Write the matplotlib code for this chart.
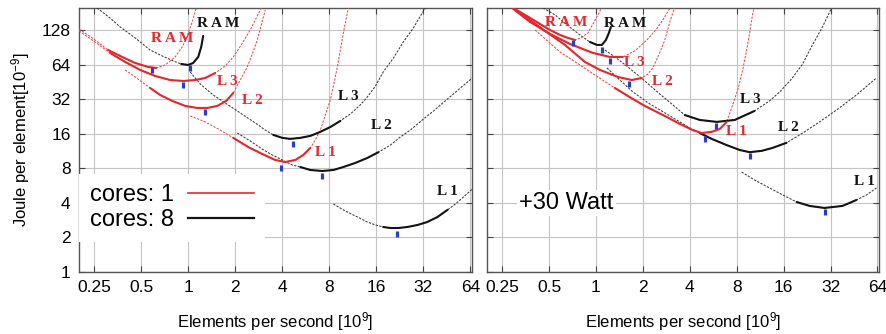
import matplotlib
matplotlib.use('Agg')
import matplotlib.pyplot as plt
from matplotlib.lines import Line2D

plt.rcParams['font.family'] = ['Liberation Sans', 'DejaVu Sans']
plt.rcParams['mathtext.fontset'] = 'custom'
plt.rcParams['mathtext.rm'] = 'Liberation Sans'
plt.rcParams['mathtext.it'] = 'Liberation Sans:italic'
plt.rcParams['mathtext.bf'] = 'Liberation Sans:bold'

# ---------------- data ----------------
X_TICKS = [0.25, 0.5, 1, 2, 4, 8, 16, 32, 64]
X_TICK_LABELS = ['0.25', '0.5', '1', '2', '4', '8', '16', '32', '64']
Y_TICKS = [1, 2, 4, 8, 16, 32, 64, 128]
Y_TICK_LABELS = ['1', '2', '4', '8', '16', '32', '64', '128']

# left panel, cores: 1
L_RAM1_X = [0.200, 0.253, 0.307, 0.378, 0.458, 0.554, 0.624, 0.712, 0.825, 0.915, 0.985, 1.061, 1.125]
L_RAM1_Y = [131.9, 105.8, 86.5, 75.2, 66.6, 61.5, 60.3, 64.0, 75.2, 91.9, 114.6, 151.8, 201]
L_L3_1_X = [0.200, 0.253, 0.316, 0.395, 0.493, 0.615, 0.767, 0.929, 1.109, 1.285, 1.489, 1.726, 1.942, 2.186, 2.495, 2.726, 2.977]
L_L3_1_Y = [126.8, 101.6, 81.5, 68.0, 57.9, 51.3, 47.3, 46.4, 47.3, 49.3, 54.5, 62.7, 75.2, 95.7, 129.3, 164.5, 209]
L_L2_1_X = [0.395, 0.458, 0.570, 0.662, 0.790, 0.957, 1.142, 1.323, 1.534, 1.752, 1.942, 2.153, 2.387, 2.570, 2.767, 2.935, 3.113]
L_L2_1_Y = [57.9, 50.3, 40.3, 35.0, 31.1, 28.1, 27.0, 27.0, 28.1, 31.1, 36.5, 47.3, 61.5, 79.8, 105.8, 143, 193]
L_L1_1_X = [1.030, 1.285, 1.556, 1.942, 2.423, 2.977, 3.608, 4.18, 4.84, 5.45, 6.05, 6.51, 7.01, 7.54, 8.12, 8.61, 9.0, 9.41, 9.84, 10.28, 10.59]
L_L1_1_Y = [22.98, 20.4, 17.7, 14.8, 12.3, 10.7, 9.49, 9.11, 9.49, 10.5, 12.1, 14.2, 17.3, 23.4, 31.7, 45.5, 61.5, 86.5, 121.8, 164.5, 201]
# left panel, cores: 8
L_RAM8_X = [0.261, 0.316, 0.367, 0.458, 0.570, 0.682, 0.801, 0.902, 1.0, 1.076, 1.159, 1.211, 1.247]
L_RAM8_Y = [201, 164.5, 137.3, 110.1, 86.5, 76.7, 69.4, 65.3, 64.0, 66.6, 75.2, 91.9, 114.6]
L_L3_8_X = [1.03, 1.193, 1.446, 1.726, 2.153, 2.687, 3.113, 3.504, 4.0, 4.50, 5.22, 6.05, 7.01, 8.12, 9.41, 10.9, 12.64, 14.0, 15.8, 17.7, 20.6, 23.8, 27.6, 30.6, 33.0]
L_L3_8_Y = [55.6, 43.7, 35.0, 29.8, 24.4, 19.97, 17.3, 15.7, 14.8, 14.5, 14.8, 15.4, 16.7, 18.4, 20.8, 23.9, 28.7, 33.6, 42.0, 55.6, 73.7, 101.6, 134.5, 171, 201]
L_L2_8_X = [2.06, 2.495, 2.977, 3.45, 4.0, 4.64, 5.22, 6.05, 7.22, 8.49, 9.84, 11.7, 14.0, 16.5, 19.7, 22.8, 26.4, 31.5, 37.1, 44.9, 55.2, 65.9]
L_L2_8_Y = [16.3, 13.9, 11.8, 10.5, 9.49, 8.58, 8.24, 7.76, 7.61, 7.76, 8.24, 8.93, 9.88, 11.1, 12.8, 15.1, 17.3, 21.2, 25.4, 31.7, 40.3, 49.3]
L_L1_8_X = [8.49, 10.1, 12.1, 14.0, 15.8, 17.7, 19.7, 22.1, 25.3, 29.3, 33.9, 39.4, 45.6, 51.3, 57.7, 65.9]
L_L1_8_Y = [3.92, 3.41, 3.02, 2.73, 2.57, 2.47, 2.42, 2.42, 2.47, 2.57, 2.73, 3.02, 3.48, 3.92, 4.51, 5.30]
# measured (solid) ranges, left panel
L_SOLID_C1 = [(0.30, 0.63), (0.31, 1.50), (0.56, 1.95), (1.94, 6.06)]
L_SOLID_C8 = [(0.90, 1.25), (3.50, 9.42), (5.20, 16.6), (17.6, 45.7)]
# optimum markers, left panel
L_OPT_X = [0.588, 1.03, 0.929, 1.285, 4.70, 3.94, 7.22, 21.8]
L_OPT_Y = [57.9, 60.3, 42.8, 24.9, 13.1, 8.08, 6.88, 2.15]

# right panel (+30 Watt), cores: 1
R_RAM1_X = [0.281, 0.326, 0.378, 0.438, 0.507, 0.588, 0.662, 0.734, 0.801, 0.889, 0.957, 1.03, 1.109]
R_RAM1_Y = [209, 185.6, 164.5, 145.8, 129.3, 117, 110.1, 105.8, 110.1, 121.8, 145.8, 174.8, 213.6]
R_L3_1_X = [0.290, 0.378, 0.507, 0.682, 0.957, 1.229, 1.489, 1.778, 2.122, 2.423, 2.687, 2.935, 3.113]
R_L3_1_Y = [201, 151.8, 119.4, 97.6, 81.5, 75.2, 75.2, 84.8, 105.8, 129.3, 158, 193, 218]
R_L2_1_X = [0.303, 0.378, 0.471, 0.633, 0.850, 1.061, 1.383, 1.700, 1.971, 2.153, 2.318, 2.532, 2.767, 2.977, 3.207]
R_L2_1_Y = [193, 158, 126.8, 95.7, 68.0, 57.9, 50.3, 47.3, 49.3, 53.4, 60.3, 78.3, 105.8, 151.8, 205]
R_L1_1_X = [0.407, 0.588, 0.790, 0.985, 1.323, 1.726, 2.06, 2.85, 3.45, 4.18, 4.77, 5.53, 6.23, 6.90, 7.54, 8.12, 8.74, 9.27, 9.69, 10.1, 10.4]
R_L1_1_Y = [129.3, 83.1, 64.0, 52.3, 40.3, 32.3, 28.1, 22.5, 19.6, 17.3, 16.3, 16.7, 17.7, 20.4, 28.7, 38.7, 57.9, 86.5, 121.8, 174.8, 209]
# right panel, cores: 8
R_RAM8_X = [0.438, 0.547, 0.652, 0.790, 0.915, 1.015, 1.093, 1.159, 1.211, 1.247]
R_RAM8_Y = [209, 174.8, 143, 117, 101.6, 95.7, 95.7, 105.8, 121.8, 137.3]
R_L3_8_X = [1.093, 1.323, 1.603, 2.06, 2.570, 3.07, 3.72, 4.64, 5.96, 7.77, 10.4, 13.0, 15.1, 18.0, 21.2, 24.5, 28.4, 32.5]
R_L3_8_Y = [90.1, 75.2, 61.5, 46.4, 35.7, 29.2, 23.4, 21.2, 20.4, 21.2, 25.4, 31.1, 37.2, 48.3, 65.3, 95.7, 137.3, 201]
R_L2_8_X = [1.176, 1.425, 1.726, 2.218, 2.85, 3.45, 4.0, 4.64, 5.53, 6.90, 8.36, 9.69, 11.57, 13.6, 16.7, 21.2, 27.2, 35.0, 46.9, 63.1]
R_L2_8_Y = [60.3, 47.3, 37.2, 29.2, 23.9, 20.4, 18.05, 16.3, 14.5, 12.8, 11.6, 11.1, 11.4, 12.1, 13.4, 16.3, 20.4, 25.9, 35.0, 49.3]
R_L1_8_X = [8.61, 10.4, 13.0, 15.8, 19.4, 23.5, 29.3, 38.2, 46.9, 54.4, 63.1]
R_L1_8_Y = [7.46, 6.35, 5.41, 4.70, 4.08, 3.77, 3.62, 3.77, 4.25, 4.70, 5.41]
R_SOLID_C1 = [(0.28, 0.74), (0.29, 1.50), (0.30, 1.98), (1.32, 6.91)]
R_SOLID_C8 = [(0.91, 1.25), (3.70, 10.5), (4.60, 16.8), (19.3, 47.0)]
R_OPT_X = [0.712, 1.093, 1.229, 1.627, 5.87, 4.99, 9.69, 29.3]
R_OPT_Y = [99.6, 86.5, 69.4, 43.7, 18.8, 14.5, 10.3, 3.34]

LEVELS = ['R A M', 'L 3', 'L 2', 'L 1']
SERIES = ['cores: 1', 'cores: 8']

# ---------------- style ----------------
RED = '#e8262b'
RED_DOT = '#f0484a'
BLK = '#141414'
BLK_DOT = '#3a3a3a'
BLUE = '#2a3ec4'
GRID = '#c4c4c4'

fig = plt.figure(figsize=(8.87, 3.34), dpi=100)
axL = fig.add_axes([79 / 887, 62 / 334, 393 / 887, 264 / 334])
axR = fig.add_axes([487 / 887, 62 / 334, 392 / 887, 264 / 334])


def draw_curve(ax, xs, ys, rng, color, dcolor):
    ax.plot(xs, ys, color=dcolor, lw=0.75, ls=(0, (2.2, 1.3)), zorder=3)
    lo, hi = rng
    sx = [x for x in xs if lo <= x <= hi]
    sy = [y for x, y in zip(xs, ys) if lo <= x <= hi]
    ax.plot(sx, sy, color=color, lw=1.5, solid_capstyle='round',
            solid_joinstyle='round', zorder=4)


def setup(ax, show_y):
    ax.set_xscale('log', base=2)
    ax.set_yscale('log', base=2)
    ax.set_xlim(0.2, 65.5)
    ax.set_ylim(1, 201)
    ax.set_xticks(X_TICKS)
    ax.set_xticklabels(X_TICK_LABELS)
    ax.set_yticks(Y_TICKS)
    ax.set_yticklabels(Y_TICK_LABELS if show_y else [])
    ax.minorticks_off()
    ax.grid(True, color=GRID, lw=0.8, zorder=0)
    ax.set_axisbelow(True)
    ax.tick_params(which='both', direction='in', length=4, width=0.8,
                   color='#444444', top=True, right=True,
                   labelsize=12.5, pad=6)
    for s in ax.spines.values():
        s.set_color('#555555')
        s.set_linewidth(1.0)
    ax.set_xlabel('Elements per second [10$^{9}$]', fontsize=12)
    ax.xaxis.set_label_coords(0.5, -0.145)


setup(axL, True)
setup(axR, False)
axL.set_ylabel('Joule per element[10$^{-9}$]', fontsize=12)
axL.yaxis.set_label_coords(-0.12, 0.5)

left_c1 = [(L_RAM1_X, L_RAM1_Y), (L_L3_1_X, L_L3_1_Y), (L_L2_1_X, L_L2_1_Y), (L_L1_1_X, L_L1_1_Y)]
left_c8 = [(L_RAM8_X, L_RAM8_Y), (L_L3_8_X, L_L3_8_Y), (L_L2_8_X, L_L2_8_Y), (L_L1_8_X, L_L1_8_Y)]
right_c1 = [(R_RAM1_X, R_RAM1_Y), (R_L3_1_X, R_L3_1_Y), (R_L2_1_X, R_L2_1_Y), (R_L1_1_X, R_L1_1_Y)]
right_c8 = [(R_RAM8_X, R_RAM8_Y), (R_L3_8_X, R_L3_8_Y), (R_L2_8_X, R_L2_8_Y), (R_L1_8_X, R_L1_8_Y)]

for (xs, ys), rng in zip(left_c8, L_SOLID_C8):
    draw_curve(axL, xs, ys, rng, BLK, BLK_DOT)
for (xs, ys), rng in zip(left_c1, L_SOLID_C1):
    draw_curve(axL, xs, ys, rng, RED, RED_DOT)
for (xs, ys), rng in zip(right_c8, R_SOLID_C8):
    draw_curve(axR, xs, ys, rng, BLK, BLK_DOT)
for (xs, ys), rng in zip(right_c1, R_SOLID_C1):
    draw_curve(axR, xs, ys, rng, RED, RED_DOT)

for ax, mx, my in [(axL, L_OPT_X, L_OPT_Y), (axR, R_OPT_X, R_OPT_Y)]:
    ax.plot(mx, my, ls='none', marker='|', markersize=5, mew=2.3,
            color=BLUE, zorder=6)

lab_kw = dict(fontsize=11, fontweight='bold', family=['Liberation Serif', 'DejaVu Serif'],
              ha='center', va='center', zorder=7)
# left panel labels (data coordinates)
axL.text(1.556, 145.8, LEVELS[0], color=BLK, **lab_kw)
axL.text(0.790, 108, LEVELS[0], color=RED, **lab_kw)
axL.text(1.78, 45.5, LEVELS[1], color=RED, **lab_kw)
axL.text(2.57, 31.1, LEVELS[2], color=RED, **lab_kw)
axL.text(10.6, 34.3, LEVELS[1], color=BLK, **lab_kw)
axL.text(17.2, 18.8, LEVELS[2], color=BLK, **lab_kw)
axL.text(7.54, 11.1, LEVELS[3], color=RED, **lab_kw)
axL.text(45.6, 4.99, LEVELS[3], color=BLK, **lab_kw)
# right panel labels
axR.text(0.643, 148.8, LEVELS[0], color=RED, **lab_kw)
axR.text(1.534, 145.8, LEVELS[0], color=BLK, **lab_kw)
axR.text(1.752, 66.6, LEVELS[1], color=RED, **lab_kw)
axR.text(2.687, 45.5, LEVELS[2], color=RED, **lab_kw)
axR.text(9.84, 32.3, LEVELS[1], color=BLK, **lab_kw)
axR.text(8.0, 16.7, LEVELS[3], color=RED, **lab_kw)
axR.text(17.2, 18.05, LEVELS[2], color=BLK, **lab_kw)
axR.text(52.8, 6.22, LEVELS[3], color=BLK, **lab_kw)

handles = [Line2D([], [], color=RED, lw=1.2), Line2D([], [], color=BLK, lw=1.6)]
leg = axL.legend(handles, SERIES, loc='upper left', bbox_to_anchor=(0.0, 0.372),
                 borderaxespad=0, markerfirst=False, fontsize=17,
                 handlelength=2.8, handletextpad=0.6, labelspacing=0.12,
                 borderpad=0.45, frameon=True, fancybox=False)
leg.get_frame().set_facecolor('white')
leg.get_frame().set_edgecolor('none')
leg.get_frame().set_alpha(1)
leg.set_zorder(8)

axR.text(0.082, 0.262, '+30 Watt', transform=axR.transAxes, fontsize=17,
         ha='left', va='center', zorder=8,
         bbox=dict(facecolor='white', edgecolor='none', pad=1.5))

fig.savefig('out.png', dpi=100)
